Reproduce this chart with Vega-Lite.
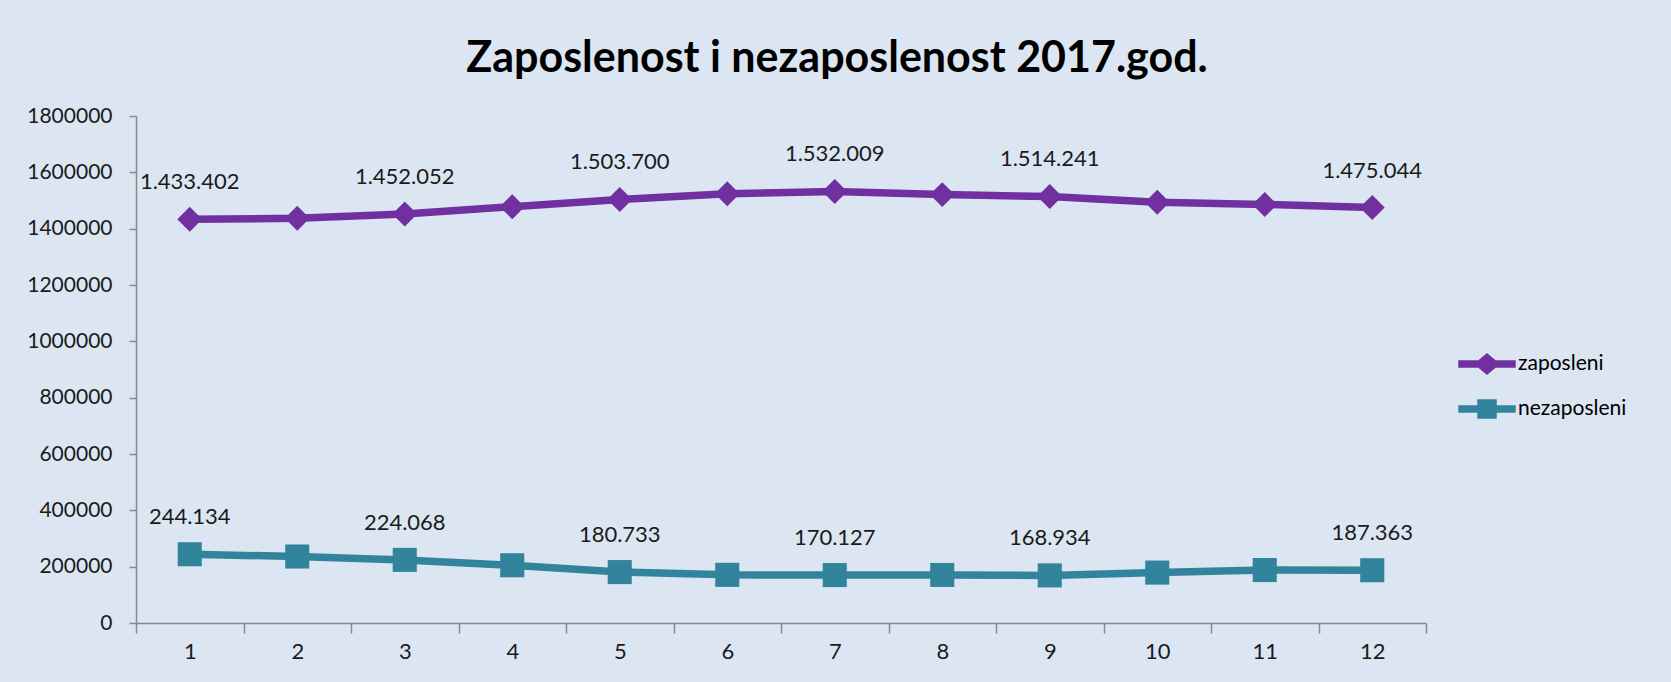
{
  "$schema": "https://vega.github.io/schema/vega-lite/v6.json",
  "autosize": {"type": "none"},
  "width": 1290,
  "height": 507,
  "padding": {"left": 136, "top": 116, "right": 245, "bottom": 59},
  "background": "#DCE6F2",
  "title": {
    "text": "Zaposlenost i nezaposlenost 2017.god.",
    "font": "Lato",
    "fontSize": 43,
    "fontWeight": "bold",
    "color": "#000000",
    "anchor": "middle",
    "frame": "group",
    "baseline": "alphabetic",
    "offset": 41,
    "dx": 56,
    "dy": 51
  },
  "config": {
    "locale": {"number": {"decimal": ",", "thousands": ".", "grouping": [3], "currency": ["", ""]}},
    "view": {"stroke": null},
    "font": "Lato"
  },
  "data": {
    "values": [
      {"month": 1, "series": "zaposleni", "value": 1433402},
      {"month": 2, "series": "zaposleni", "value": 1437000},
      {"month": 3, "series": "zaposleni", "value": 1452052},
      {"month": 4, "series": "zaposleni", "value": 1478000},
      {"month": 5, "series": "zaposleni", "value": 1503700},
      {"month": 6, "series": "zaposleni", "value": 1524000},
      {"month": 7, "series": "zaposleni", "value": 1532009},
      {"month": 8, "series": "zaposleni", "value": 1521000},
      {"month": 9, "series": "zaposleni", "value": 1514241},
      {"month": 10, "series": "zaposleni", "value": 1494000},
      {"month": 11, "series": "zaposleni", "value": 1486000},
      {"month": 12, "series": "zaposleni", "value": 1475044},
      {"month": 1, "series": "nezaposleni", "value": 244134},
      {"month": 2, "series": "nezaposleni", "value": 236000},
      {"month": 3, "series": "nezaposleni", "value": 224068},
      {"month": 4, "series": "nezaposleni", "value": 205000},
      {"month": 5, "series": "nezaposleni", "value": 180733},
      {"month": 6, "series": "nezaposleni", "value": 171000},
      {"month": 7, "series": "nezaposleni", "value": 170127},
      {"month": 8, "series": "nezaposleni", "value": 170500},
      {"month": 9, "series": "nezaposleni", "value": 168934},
      {"month": 10, "series": "nezaposleni", "value": 179000},
      {"month": 11, "series": "nezaposleni", "value": 188000},
      {"month": 12, "series": "nezaposleni", "value": 187363}
    ]
  },
  "encoding": {
    "x": {
      "field": "month",
      "type": "quantitative",
      "scale": {"domain": [0.5, 12.5], "nice": false, "zero": false},
      "axis": {
        "title": null,
        "values": [0.5, 1.5, 2.5, 3.5, 4.5, 5.5, 6.5, 7.5, 8.5, 9.5, 10.5, 11.5, 12.5],
        "labelExpr": "datum.value > 12 ? '' : format(datum.value + 0.5, 'd')",
        "labelOffset": 53.75,
        "grid": false,
        "domainColor": "#888888",
        "domainWidth": 1.5,
        "tickColor": "#888888",
        "tickWidth": 1.5,
        "tickSize": 10,
        "labelFontSize": 22,
        "labelColor": "#1a1a1a",
        "labelPadding": 8,
        "labelFlush": false,
        "labelOverlap": false
      }
    },
    "y": {
      "field": "value",
      "type": "quantitative",
      "scale": {"domain": [0, 1800000], "nice": false},
      "axis": {
        "title": null,
        "values": [0, 200000, 400000, 600000, 800000, 1000000, 1200000, 1400000, 1600000, 1800000],
        "format": "d",
        "grid": false,
        "domainColor": "#888888",
        "domainWidth": 1.5,
        "tickColor": "#888888",
        "tickWidth": 1.5,
        "tickSize": 7,
        "labelFontSize": 21,
        "labelColor": "#1a1a1a",
        "labelPadding": 17
      }
    }
  },
  "layer": [
    {
      "transform": [{"filter": "datum.series === 'zaposleni'"}],
      "mark": {"type": "line", "strokeWidth": 7.5, "color": "#7030A0"},
      "encoding": {}
    },
    {
      "transform": [{"filter": "datum.series === 'nezaposleni'"}],
      "mark": {"type": "line", "strokeWidth": 7.5, "color": "#31849B"},
      "encoding": {}
    },
    {
      "transform": [{"filter": "datum.series === 'zaposleni'"}],
      "mark": {"type": "point", "shape": "diamond", "filled": true, "size": 620, "opacity": 1, "color": "#7030A0"}
    },
    {
      "transform": [{"filter": "datum.series === 'nezaposleni'"}],
      "mark": {"type": "point", "shape": "square", "filled": true, "size": 580, "opacity": 1, "color": "#31849B"}
    },
    {
      "mark": {"type": "point", "filled": true, "opacity": 0},
      "encoding": {
        "color": {
          "field": "series",
          "type": "nominal",
          "scale": {"domain": ["zaposleni", "nezaposleni"], "range": ["#7030A0", "#31849B"]},
          "legend": {
            "title": null,
            "orient": "none",
            "legendX": 1322,
            "legendY": 219,
            "labelFontSize": 21,
            "labelColor": "#000000",
            "symbolSize": 3300,
            "symbolOpacity": 1,
            "symbolStrokeWidth": 0,
            "rowPadding": 5,
            "labelOffset": 2
          }
        },
        "shape": {
          "field": "series",
          "type": "nominal",
          "scale": {
            "domain": ["zaposleni", "nezaposleni"],
            "range": [
              "M-1,-0.13H-0.3L0,-0.38L0.3,-0.13H1V0.13H0.3L0,0.38L-0.3,0.13H-1Z",
              "M-1,-0.13H-0.34V-0.34H0.34V-0.13H1V0.13H0.34V0.34H-0.34V0.13H-1Z"
            ]
          },
          "legend": {
            "title": null,
            "orient": "none",
            "legendX": 1322,
            "legendY": 219,
            "labelFontSize": 21,
            "labelColor": "#000000",
            "symbolSize": 3300,
            "symbolOpacity": 1,
            "symbolStrokeWidth": 0,
            "rowPadding": 5,
            "labelOffset": 2
          }
        }
      }
    },
    {
      "transform": [{"filter": "indexof([1, 3, 5, 7, 9, 12], datum.month) >= 0"}],
      "mark": {"type": "text", "dy": -37, "fontSize": 22, "color": "#1a1a1a"},
      "encoding": {
        "text": {"field": "value", "type": "quantitative", "format": ",d"}
      }
    }
  ]
}
